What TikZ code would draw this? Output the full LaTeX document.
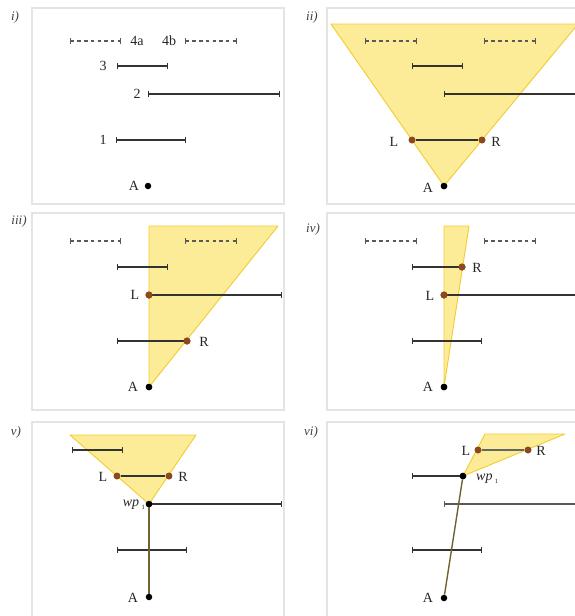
\documentclass[tikz,border=0pt]{standalone}
\usepackage{fontspec}
\setmainfont{Liberation Serif}
\usetikzlibrary{arrows.meta}
\definecolor{fillY}{HTML}{FCEC98}
\definecolor{edgeY}{HTML}{F2CC30}
\definecolor{boxG}{HTML}{E4E4E4}
\definecolor{ptB}{HTML}{8B4A1E}
\definecolor{segC}{HTML}{333333}
\definecolor{pathC}{HTML}{6E6430}
\tikzset{
  panelbox/.style={draw=boxG, line width=1.3pt},
  wedge/.style={fill=fillY, draw=edgeY, line width=0.9pt, line join=round},
  segline/.style={draw=segC, line width=1.2pt, {Bar[width=5.5pt,line width=1pt]}-{Bar[width=5.5pt,line width=1pt]}},
  segopen/.style={draw=segC, line width=1.2pt, {Bar[width=5.5pt,line width=1pt]}-},
  dseg/.style={draw=black!65, line width=1.1pt, dash pattern=on 3.5pt off 3.2pt, {Bar[width=5.5pt,line width=1pt]}-{Bar[width=5.5pt,line width=1pt]}},
  plainseg/.style={draw=segC, line width=1.2pt},
  adot/.style={circle, fill=black, inner sep=0pt, minimum size=6.5pt},
  bdot/.style={circle, fill=ptB, inner sep=0pt, minimum size=7pt},
  lbl/.style={inner sep=0pt, font=\fontsize{14}{16}\selectfont, text=black!85},
  plbl/.style={inner sep=0pt, font=\fontsize{13}{15}\selectfont\itshape, text=black!75},
  pathl/.style={draw=pathC, line width=1.4pt},
}
\newcommand{\wpone}{\textit{wp}\,{\fontsize{6.5}{7}\selectfont\raisebox{-2.5pt}{1}}}
\newcommand{\hsg}[5]{\coordinate (#1a) at (#2,#4); \coordinate (#1b) at (#3,#4); \draw[#5] (#1a) -- (#1b);}
\begin{document}
\begin{tikzpicture}[x=1pt,y=-1pt]
\useasboundingbox (0,0) rectangle (575,616);
\clip (0,0) rectangle (575,616);
\fill[white] (0,0) rectangle (575,616);
% ---------- panel boxes ----------
\draw[panelbox] (32,8) rectangle (284,204);
\draw[panelbox] (327,8) rectangle (585,204);
\draw[panelbox] (32,213) rectangle (284,410);
\draw[panelbox] (327,213) rectangle (585,410);
\draw[panelbox] (32,422) rectangle (284,630);
\draw[panelbox] (327,422) rectangle (585,630);
% ---------- panel labels ----------
\node[plbl] (ti) at (15,17) {i)};
\node[plbl] (tii) at (312,17) {ii)};
\node[plbl] (tiii) at (19,221) {iii)};
\node[plbl] (tiv) at (313,229) {iv)};
\node[plbl] (tv) at (16,432) {v)};
\node[plbl] (tvi) at (311,432) {vi)};
% ---------- panel i ----------
\hsg{ia}{70}{121}{41}{dseg}
\hsg{ib}{185}{237}{41}{dseg}
\hsg{ic}{117}{168}{66}{segline}
\hsg{id}{148}{280}{94}{segline}
\hsg{ie}{116}{186}{140}{segline}
\node[lbl] (l4a) at (137,41) {4a};
\node[lbl] (l4b) at (169,41) {4b};
\node[lbl] (l3) at (103,66) {3};
\node[lbl] (l2) at (137,94) {2};
\node[lbl] (l1) at (103,140) {1};
\node[adot] (iA) at (148,186) {};
\node[lbl] (iAl) at (134,186) {A};
% ---------- panel ii ----------
\coordinate (iiT1) at (331,24);
\coordinate (iiT2) at (578,24);
\node[adot] (iiA) at (444,186) {};
\fill[wedge] (iiT1) -- (iiT2) -- (iiA.center) -- cycle;
\hsg{iia}{365}{417}{41}{dseg}
\hsg{iib}{484}{536}{41}{dseg}
\hsg{iic}{412}{463}{66}{segline}
\hsg{iid}{444}{600}{94}{segopen}
\node[bdot] (iiL) at (412,140) {};
\node[bdot] (iiR) at (482,140) {};
\draw[plainseg] (iiL) -- (iiR);
\node[adot] at (iiA) {};
\node[lbl] (iiLl) at (394,142) {L};
\node[lbl] (iiRl) at (496,142) {R};
\node[lbl] (iiAl) at (428,188) {A};
% ---------- panel iii ----------
\coordinate (iiiT1) at (149,226);
\coordinate (iiiT2) at (278,226);
\node[adot] (iiiA) at (149,387) {};
\fill[wedge] (iiiT1) -- (iiiT2) -- (iiiA.center) -- cycle;
\hsg{iiia}{70}{121}{241}{dseg}
\hsg{iiib}{185}{237}{241}{dseg}
\hsg{iiic}{117}{168}{267}{segline}
\node[bdot] (iiiL) at (149,295) {};
\coordinate (iiiLe) at (282,295);
\draw[plainseg, -{Bar[width=5.5pt,line width=1pt]}] (iiiL.center) -- (iiiLe);
\node[bdot] (iiiR) at (187,341) {};
\coordinate (iiiRs) at (117,341);
\draw[plainseg, {Bar[width=5.5pt,line width=1pt]}-] (iiiRs) -- (iiiR.center);
\node[bdot] at (iiiL) {};
\node[bdot] at (iiiR) {};
\node[adot] at (iiiA) {};
\node[lbl] (iiiLl) at (135,295) {L};
\node[lbl] (iiiRl) at (204,342) {R};
\node[lbl] (iiiAl) at (133,387) {A};
% ---------- panel iv ----------
\coordinate (ivT1) at (444,226);
\coordinate (ivT2) at (469,226);
\node[adot] (ivA) at (444,387) {};
\fill[wedge] (ivT1) -- (ivT2) -- (ivA.center) -- cycle;
\hsg{iva}{365}{417}{241}{dseg}
\hsg{ivb}{484}{536}{241}{dseg}
\node[bdot] (ivR) at (462,267) {};
\coordinate (ivRs) at (412,267);
\draw[plainseg, {Bar[width=5.5pt,line width=1pt]}-] (ivRs) -- (ivR.center);
\node[bdot] (ivL) at (444,295) {};
\coordinate (ivLe) at (600,295);
\draw[plainseg] (ivL.center) -- (ivLe);
\hsg{ivc}{412}{482}{341}{segline}
\node[bdot] at (ivR) {};
\node[bdot] at (ivL) {};
\node[adot] at (ivA) {};
\node[lbl] (ivRl) at (477,268) {R};
\node[lbl] (ivLl) at (430,296) {L};
\node[lbl] (ivAl) at (428,387) {A};
% ---------- panel v ----------
\coordinate (vT1) at (70,435);
\coordinate (vT2) at (196,435);
\node[adot] (vW) at (149,504) {};
\fill[wedge] (vT1) -- (vT2) -- (vW.center) -- cycle;
\hsg{va}{72}{123}{450}{segline}
\node[bdot] (vL) at (117,476) {};
\node[bdot] (vR) at (169,476) {};
\draw[plainseg] (vL) -- (vR);
\coordinate (vWe) at (282,504);
\draw[plainseg, -{Bar[width=5.5pt,line width=1pt]}] (vW.center) -- (vWe);
\hsg{vb}{117}{187}{550}{segline}
\node[adot] (vA) at (149,597) {};
\draw[pathl] (vA) -- (vW);
\node[adot] at (vW) {};
\node[lbl] (vLl) at (103,477) {L};
\node[lbl] (vRl) at (183,477) {R};
\node[lbl, anchor=east] (vWl) at (145,505) {\wpone};
\node[lbl] (vAl) at (133,598) {A};
% ---------- panel vi ----------
\coordinate (viT1) at (485,434);
\coordinate (viT2) at (565,434);
\node[adot] (viW) at (463,476) {};
\fill[wedge] (viT1) -- (viT2) -- (viW.center) -- cycle;
\node[bdot] (viL) at (478,450) {};
\node[bdot] (viR) at (528,450) {};
\draw[plainseg, draw=black!60] (viL) -- (viR);
\coordinate (viWs) at (412,476);
\draw[plainseg, {Bar[width=5.5pt,line width=1pt]}-] (viWs) -- (viW.center);
\coordinate (viCs) at (444,504);
\coordinate (viCe) at (600,504);
\draw[plainseg, draw=black!65, {Bar[width=5.5pt,line width=1pt]}-] (viCs) -- (viCe);
\hsg{vib}{412}{482}{550}{segline}
\node[adot] (viA) at (444,598) {};
\draw[pathl] (viA) -- (viW);
\node[adot] at (viW) {};
\node[lbl] (viLl) at (466,451) {L};
\node[lbl] (viRl) at (541,451) {R};
\node[lbl, anchor=west] (viWl) at (476,479) {\wpone};
\node[lbl] (viAl) at (428,598) {A};
\end{tikzpicture}
\end{document}
